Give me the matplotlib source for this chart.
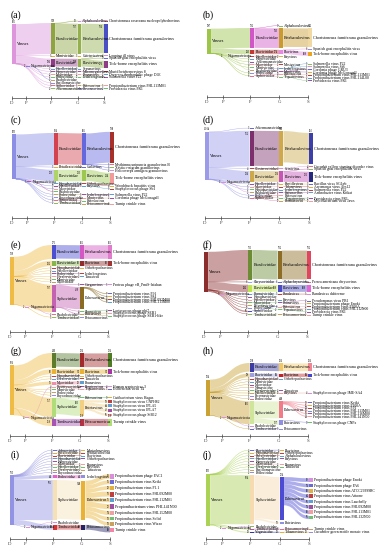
import matplotlib
matplotlib.use("Agg")
import matplotlib.pyplot as plt
from matplotlib.path import Path
from matplotlib.patches import PathPatch, Rectangle

plt.rcParams["font.family"] = ["Liberation Serif", "DejaVu Serif"]

rank_x = [0, 0.55, 1.5, 2.5, 3.5]
rank_labels = ["D", "P", "F", "G", "S"]

# lineages: (phylum, family, genus, species, reads)
a_lin = [
    ("", "Baculoviridae", "Alphabaculovirus", "Choristoneura rosaceana nucleopolyhedrovirus", 12),
    ("", "Baculoviridae", "Betabaculovirus", "Choristoneura fumiferana granulovirus", 706),
    ("", "Baculoviridae", "Betabaculovirus", "", 31),
    ("", "Mimiviridae", "Cafeteriavirus", "", 3),
    ("", "Flaviviridae", "Flavivirus", "Louping ill virus", 4),
    ("", "Flaviviridae", "Flavivirus", "Spanish goat encephalitis virus", 9),
    ("", "Flaviviridae", "Flavivirus", "Tick-borne encephalitis virus", 176),
    ("", "Flaviviridae", "", "", 7),
    ("", "Herelleviridae", "Sepunavirus", "", 2),
    ("", "Herpesviridae", "Muromegalovirus", "Murid betaherpesvirus 8", 3),
    ("", "Myoviridae", "Pbunavirus", "Deep-sea thermophilic phage D6E", 2),
    ("", "Podoviridae", "Lederbergvirus", "Salmonella virus P22", 2),
    ("Negarnaviricota", "Rhabdoviridae", "", "", 2),
    ("", "Papillomaviridae", "", "", 1),
    ("", "Siphoviridae", "Pahexavirus", "Propionibacterium virus PHL113M01", 3),
    ("", "Ackermannviridae", "Pirsoneavirus", "Providencia virus PR1", 2),
]
b_lin = [
    ("", "Baculoviridae", "Alphabaculovirus", "", 9),
    ("", "Baculoviridae", "Betabaculovirus", "Choristoneura fumiferana granulovirus", 742),
    ("", "Baculoviridae", "Betabaculovirus", "", 41),
    ("", "Flaviviridae", "Flavivirus", "Spanish goat encephalitis virus", 6),
    ("", "Flaviviridae", "Flavivirus", "Tick-borne encephalitis virus", 168),
    ("", "Flaviviridae", "", "", 9),
    ("", "Herelleviridae", "Kayvirus", "", 2),
    ("", "Herpesviridae", "", "", 2),
    ("", "Ackermannviridae", "", "", 1),
    ("", "Myoviridae", "Mosigvirus", "", 2),
    ("", "Mimiviridae", "", "", 1),
    ("Negarnaviricota", "Rhabdoviridae", "", "", 2),
    ("", "Podoviridae", "Lederbergvirus", "Salmonella virus P22", 3),
    ("", "Podoviridae", "Lederbergvirus", "Salmonella virus Sf6", 1),
    ("", "Siphoviridae", "Montyvirus", "Gordonia phage GRU3", 1),
    ("", "Siphoviridae", "Montyvirus", "Gordonia phage McGonagall", 1),
    ("", "Siphoviridae", "Pahexavirus", "Propionibacterium virus PHL113M01", 2),
    ("", "Siphoviridae", "Pahexavirus", "Propionibacterium virus PHL114L00", 2),
    ("", "Myoviridae", "Tequatrovirus", "Providencia virus PR1", 2),
]
c_lin = [
    ("", "Baculoviridae", "Betabaculovirus", "Choristoneura fumiferana granulovirus", 598),
    ("", "Baculoviridae", "Betabaculovirus", "Mythimna unipuncta granulovirus B", 3),
    ("", "Baculoviridae", "Betabaculovirus", "Xestia c-nigrum granulovirus", 3),
    ("", "Baculoviridae", "Betabaculovirus", "Helicoverpa armigera granulovirus", 2),
    ("", "Baculoviridae", "", "", 18),
    ("", "Betaflexiviridae", "Carlavirus", "", 3),
    ("", "Flaviviridae", "Flavivirus", "Tick-borne encephalitis virus", 214),
    ("", "Flaviviridae", "Flavivirus", "", 9),
    ("", "Hepadnaviridae", "Orthohepadnavirus", "Woodchuck hepatitis virus", 4),
    ("", "Herelleviridae", "Kayvirus", "Staphylococcus phage Sb1", 3),
    ("", "Myoviridae", "", "", 3),
    ("Negarnaviricota", "Rhabdoviridae", "", "", 3),
    ("", "Podoviridae", "Lederbergvirus", "Salmonella virus P22", 3),
    ("", "Phycodnaviridae", "", "", 1),
    ("", "Siphoviridae", "Montyvirus", "Gordonia phage McGonagall", 2),
    ("", "Siphoviridae", "Pahexavirus", "", 2),
    ("", "Tombusviridae", "Betacarmovirus", "Turnip crinkle virus", 2),
]
d_lin = [
    ("", "Ackermannviridae", "", "", 3),
    ("", "Baculoviridae", "Betabaculovirus", "Choristoneura fumiferana granulovirus", 662),
    ("", "Baculoviridae", "Betabaculovirus", "", 78),
    ("", "Baculoviridae", "", "", 12),
    ("", "Closteroviridae", "Crinivirus", "Cucurbit yellow stunting disorder virus", 4),
    ("", "Flaviviridae", "Flavivirus", "Spanish goat encephalitis virus", 5),
    ("", "Flaviviridae", "Flavivirus", "Tick-borne encephalitis virus", 221),
    ("", "Flaviviridae", "", "", 8),
    ("", "Herelleviridae", "Bastillevirus", "Bacillus virus SG1pb", 3),
    ("", "Myoviridae", "Tulanevirus", "Aeromonas virus Aes12", 3),
    ("", "Hepadnaviridae", "", "", 2),
    ("Negarnaviricota", "Rhabdoviridae", "", "", 2),
    ("", "Podoviridae", "Lederbergvirus", "Salmonella virus P22", 3),
    ("", "Siphoviridae", "Kafunavirus", "Arthrobacter virus Kitkat", 2),
    ("", "Siphoviridae", "Pahexavirus", "", 2),
    ("", "Myoviridae", "Tequatrovirus", "Providencia virus PR1", 2),
    ("", "Siphoviridae", "Fromanvirus", "Mycobacterium virus Jaws", 2),
]
e_lin = [
    ("", "Baculoviridae", "Betabaculovirus", "Choristoneura fumiferana granulovirus", 262),
    ("", "Baculoviridae", "", "", 9),
    ("", "Flaviviridae", "Flavivirus", "Tick-borne encephalitis virus", 96),
    ("", "Flaviviridae", "", "", 6),
    ("", "Hepadnaviridae", "Orthohepadnavirus", "", 3),
    ("", "Herelleviridae", "", "", 2),
    ("", "Podoviridae", "Lederbergvirus", "", 3),
    ("", "Drexlerviridae", "Tunavirus", "", 2),
    ("", "Mimiviridae", "", "", 2),
    ("", "Myoviridae", "", "", 2),
    ("", "Siphoviridae", "Gorganvirus", "Proteus phage vB_PmiS-Isfahan", 3),
    ("", "Siphoviridae", "Pahexavirus", "Propionibacterium virus P91", 7),
    ("", "Siphoviridae", "Pahexavirus", "Propionibacterium virus P84", 6),
    ("", "Siphoviridae", "Pahexavirus", "Propionibacterium virus PHL092M00", 8),
    ("", "Siphoviridae", "Pahexavirus", "Propionibacterium virus PHL113M00", 6),
    ("", "Siphoviridae", "Pahexavirus", "", 402),
    ("", "Siphoviridae", "Skunavirus", "Lactococcus phage phi7", 4),
    ("", "Siphoviridae", "Phietavirus", "Staphylococcus phage SEB1", 3),
    ("", "Siphoviridae", "Phietavirus", "Staphylococcus phage SEB1-like", 3),
    ("", "Siphoviridae", "", "", 95),
    ("Negarnaviricota", "Rhabdoviridae", "", "", 2),
    ("", "Tombusviridae", "Betacarmovirus", "", 3),
]
f_lin = [
    ("", "Baculoviridae", "Betabaculovirus", "Choristoneura fumiferana granulovirus", 702),
    ("", "Baculoviridae", "", "", 28),
    ("", "Chrysoviridae", "Alphachrysovirus", "Persea americana chrysovirus", 6),
    ("", "Flaviviridae", "Flavivirus", "Tick-borne encephalitis virus", 168),
    ("", "Flaviviridae", "", "", 14),
    ("Negarnaviricota", "Phenuiviridae", "Bandavirus", "Bandavirus dabieense", 5),
    ("", "Hepadnaviridae", "", "", 2),
    ("", "Herelleviridae", "Kayvirus", "", 2),
    ("", "Myoviridae", "Pbunavirus", "Pseudomonas virus PB1", 2),
    ("", "Picornaviridae", "", "", 1),
    ("", "Podoviridae", "", "", 2),
    ("", "Siphoviridae", "Pahexavirus", "Propionibacterium phage Enoki", 2),
    ("", "Siphoviridae", "Pahexavirus", "Propionibacterium virus P100A", 2),
    ("", "Siphoviridae", "Pahexavirus", "Propionibacterium virus PHL112N00", 2),
    ("", "Siphoviridae", "", "", 30),
    ("", "Myoviridae", "Tequatrovirus", "Providencia virus PR1", 2),
    ("", "Tombusviridae", "Betacarmovirus", "Turnip crinkle virus", 2),
]
g_lin = [
    ("", "Baculoviridae", "Betabaculovirus", "Choristoneura fumiferana granulovirus", 226),
    ("", "Baculoviridae", "", "", 14),
    ("", "Flaviviridae", "Flavivirus", "Tick-borne encephalitis virus", 74),
    ("", "Flaviviridae", "", "", 6),
    ("", "Hepadnaviridae", "Orthohepadnavirus", "", 3),
    ("", "Drexlerviridae", "Tunavirus", "", 3),
    ("", "Myoviridae", "Pbunavirus", "", 52),
    ("Negarnaviricota", "Paramyxoviridae", "Respirovirus", "Human respirovirus 3", 4),
    ("", "Myoviridae", "Tequatrovirus", "Escherichia virus T4", 3),
    ("", "Mimiviridae", "", "", 2),
    ("", "Podoviridae", "", "", 2),
    ("", "Phycodnaviridae", "", "", 2),
    ("", "Siphoviridae", "Pahexavirus", "Cutibacterium virus Hagus", 9),
    ("", "Siphoviridae", "Phietavirus", "Staphylococcus virus CNPH82", 38),
    ("", "Siphoviridae", "Phietavirus", "Staphylococcus virus IPLA5", 48),
    ("", "Siphoviridae", "Phietavirus", "Staphylococcus virus IPLA7", 42),
    ("", "Siphoviridae", "Phietavirus", "Staphylococcus phage StB12", 36),
    ("", "Siphoviridae", "Phietavirus", "", 96),
    ("", "Siphoviridae", "", "", 48),
    ("", "Tombusviridae", "Betacarmovirus", "Turnip crinkle virus", 118),
]
h_lin = [
    ("", "Baculoviridae", "Betabaculovirus", "Choristoneura fumiferana granulovirus", 206),
    ("", "Baculoviridae", "", "", 22),
    ("", "Flaviviridae", "Flavivirus", "Tick-borne encephalitis virus", 88),
    ("", "Flaviviridae", "", "", 11),
    ("", "Hepadnaviridae", "Orthohepadnavirus", "", 3),
    ("", "Mimiviridae", "", "", 2),
    ("", "Myoviridae", "", "", 2),
    ("", "Nimaviridae", "", "", 1),
    ("", "Drexlerviridae", "Tunavirus", "", 2),
    ("", "Herelleviridae", "Kayvirus", "Staphylococcus phage IME-SA4", 4),
    ("", "Picornaviridae", "", "", 1),
    ("", "Podoviridae", "", "", 2),
    ("", "Siphoviridae", "Pahexavirus", "Propionibacterium virus Keiki", 12),
    ("", "Siphoviridae", "Pahexavirus", "Propionibacterium virus P100A", 11),
    ("", "Siphoviridae", "Pahexavirus", "Propionibacterium virus P91", 14),
    ("", "Siphoviridae", "Pahexavirus", "Propionibacterium virus PHL113M01", 13),
    ("", "Siphoviridae", "Pahexavirus", "Propionibacterium virus PHL116M00", 12),
    ("", "Siphoviridae", "Pahexavirus", "Propionibacterium virus PHL141N00", 14),
    ("", "Siphoviridae", "Pahexavirus", "", 372),
    ("", "Siphoviridae", "Phietavirus", "Staphylococcus phage CNPx", 9),
    ("", "Siphoviridae", "Phietavirus", "", 118),
    ("", "Siphoviridae", "", "", 30),
    ("Negarnaviricota", "Rhabdoviridae", "", "", 2),
    ("", "Tombusviridae", "Betacarmovirus", "", 3),
]
i_lin = [
    ("", "Adenoviridae", "Mastadenovirus", "", 3),
    ("", "Baculoviridae", "Betabaculovirus", "", 4),
    ("", "Flaviviridae", "Flavivirus", "", 3),
    ("", "Hepadnaviridae", "Orthohepadnavirus", "", 3),
    ("", "Herpesviridae", "", "", 2),
    ("", "Myoviridae", "Pbunavirus", "", 3),
    ("", "Herelleviridae", "Kayvirus", "", 3),
    ("", "Drexlerviridae", "Tunavirus", "", 2),
    ("", "Phycodnaviridae", "", "", 2),
    ("", "Podoviridae", "Lederbergvirus", "", 44),
    ("", "Siphoviridae", "Pahexavirus", "Propionibacterium phage PAC1", 62),
    ("", "Siphoviridae", "Pahexavirus", "Propionibacterium virus Keiki", 55),
    ("", "Siphoviridae", "Pahexavirus", "Propionibacterium virus P1.1", 52),
    ("", "Siphoviridae", "Pahexavirus", "Propionibacterium virus PHL092M00", 70),
    ("", "Siphoviridae", "Pahexavirus", "Propionibacterium virus PHL112M01", 55),
    ("", "Siphoviridae", "Pahexavirus", "Propionibacterium virus PHL141N00", 72),
    ("", "Siphoviridae", "Pahexavirus", "Propionibacterium virus PHL152M00", 58),
    ("", "Siphoviridae", "Pahexavirus", "Propionibacterium virus Solid", 50),
    ("", "Siphoviridae", "Pahexavirus", "Propionibacterium virus Wizzo", 50),
    ("", "Siphoviridae", "Pahexavirus", "", 24),
    ("", "Siphoviridae", "", "", 18),
    ("Negarnaviricota", "Rhabdoviridae", "", "", 2),
    ("", "Tombusviridae", "Betacarmovirus", "Turnip crinkle virus", 68),
]
j_lin = [
    ("", "Flaviviridae", "Flavivirus", "", 3),
    ("", "Hepadnaviridae", "Orthohepadnavirus", "", 3),
    ("", "Baculoviridae", "Alphabaculovirus", "", 2),
    ("", "Herelleviridae", "Kayvirus", "", 2),
    ("", "Herpesviridae", "", "", 2),
    ("", "Myoviridae", "Pbunavirus", "", 2),
    ("", "Drexlerviridae", "Tunavirus", "", 2),
    ("", "Papillomaviridae", "", "", 1),
    ("", "Podoviridae", "", "", 2),
    ("", "Siphoviridae", "Pahexavirus", "Propionibacterium phage Enoki", 62),
    ("", "Siphoviridae", "Pahexavirus", "Propionibacterium phage PA6", 58),
    ("", "Siphoviridae", "Pahexavirus", "Propionibacterium virus ATCC29399BC", 60),
    ("", "Siphoviridae", "Pahexavirus", "Propionibacterium virus Attacne", 64),
    ("", "Siphoviridae", "Pahexavirus", "Propionibacterium virus Lauchelly", 56),
    ("", "Siphoviridae", "Pahexavirus", "Propionibacterium virus PHL092M00", 58),
    ("", "Siphoviridae", "Pahexavirus", "Propionibacterium virus PHL113M01", 60),
    ("", "Siphoviridae", "Pahexavirus", "Propionibacterium virus PHL132N00", 56),
    ("", "Siphoviridae", "Pahexavirus", "", 250),
    ("", "Siphoviridae", "Phietavirus", "", 30),
    ("", "Siphoviridae", "", "", 70),
    ("Negarnaviricota", "Rhabdoviridae", "", "", 2),
    ("", "Tombusviridae", "Betacarmovirus", "Turnip crinkle virus", 8),
    ("", "Virgaviridae", "Tobamovirus", "Cucumber green mottle mosaic virus", 20),
]

CF = "Choristoneura fumiferana granulovirus"
TB = "Tick-borne encephalitis virus"
a_col = {"Viruses": "#dd96dc", "Baculoviridae": "#8da53e", "Betabaculovirus": "#93b04c",
         CF: "#4a50c4", "Flaviviridae": "#8e3d84", "Flavivirus": "#93b04c", TB: "#8e3d84",
         "Negarnaviricota": "#8080e0"}
b_col = {"Viruses": "#9cc54a", "Baculoviridae": "#d257c6", "Betabaculovirus": "#c99a2e",
         CF: "#f1d9a3", "Flaviviridae": "#c23a35", "Flavivirus": "#e58adf", TB: "#eaa420",
         "Negarnaviricota": "#c8d890"}
c_col = {"Viruses": "#8c8ee6", "Baculoviridae": "#d2424f", "Betabaculovirus": "#6567dc",
         CF: "#a8302b", "Flaviviridae": "#aed468", "Flavivirus": "#9cc84f", TB: "#f39a9a",
         "Negarnaviricota": "#c050a0"}
d_col = {"Viruses": "#9b9be9", "Baculoviridae": "#7c2f6c", "Betabaculovirus": "#cda94a",
         CF: "#3d3fab", "Flaviviridae": "#cda94a", "Flavivirus": "#c556b6", TB: "#262a7c"}
e_col = {"Viruses": "#f0bb45", "Baculoviridae": "#4c4fd2", "Betabaculovirus": "#d457c4",
         CF: "#e17ccc", "Flaviviridae": "#86b64a", "Flavivirus": "#922b2b", TB: "#a33434",
         "Siphoviridae": "#c563b3", "Pahexavirus": "#8b6b22"}
f_col = {"Viruses": "#8c2d2d", "Baculoviridae": "#6b8c34", "Betabaculovirus": "#8d6c25",
         CF: "#e2465f", "Flaviviridae": "#bde34f", "Flavivirus": "#4b4bc4", TB: "#e467d3",
         "Siphoviridae": "#4b4bd4", "Chrysoviridae": "#a0a0f0"}
g_col = {"Viruses": "#f0bb45", "Baculoviridae": "#5c7c2c", "Betabaculovirus": "#a22a2a",
         CF: "#4d7c22", "Flaviviridae": "#eab234", "Flavivirus": "#eab234", TB: "#a733a7",
         "Myoviridae": "#ef8fa8", "Siphoviridae": "#b0dc7a", "Phietavirus": "#f2cf82",
         "Tombusviridae": "#a455b4", "Betacarmovirus": "#b23344", "Turnip crinkle virus": "#b0dc7a"}
h_col = {"Viruses": "#c9a233", "Baculoviridae": "#3c3ca4", "Betabaculovirus": "#f2c867",
         CF: "#f28592", "Flaviviridae": "#a0a0e4", "Flavivirus": "#c42424", TB: "#4444d4",
         "Siphoviridae": "#cfe59a", "Pahexavirus": "#f27b8a", "Phietavirus": "#8f8fe8"}
i_col = {"Viruses": "#9393e3", "Podoviridae": "#e563c8", "Siphoviridae": "#f6e0b8",
         "Pahexavirus": "#eab234", "Tombusviridae": "#d43434", "Betacarmovirus": "#232366",
         "Turnip crinkle virus": "#f386a5"}
j_col = {"Viruses": "#aad254", "Siphoviridae": "#f6dbb0", "Pahexavirus": "#4b4bd4",
         "Tombusviridae": "#c050a0", "Virgaviridae": "#3333a4", "Tobamovirus": "#e0b040"}

palette = ["#8fbc5a", "#d98fd9", "#6a6ad0", "#e0b040", "#c04040", "#60a0d0",
           "#a050a0", "#f0a0a0", "#70c070", "#c8a060", "#9090e0", "#e07090"]

PAD = 1.8
HMIN = 1.0
NW = 0.14


def fmt(v):
    return f"{v / 1000:.2f}k" if v >= 1000 else str(v)


def build(lineage):
    nodes, order, links = {}, {c: [] for c in range(5)}, {}
    for phy, fam, gen, sp, n in lineage:
        path = [(0, "Viruses")]
        if phy:
            path.append((1, phy))
        path.append((2, fam))
        if gen:
            path.append((3, gen))
            if sp:
                path.append((4, sp))
        for k in path:
            if k not in nodes:
                nodes[k] = 0
                order[k[0]].append(k)
            nodes[k] += n
        for a, b in zip(path[:-1], path[1:]):
            links[(a, b)] = links.get((a, b), 0) + n
    return nodes, order, links


def pav(t, w):
    blocks = []
    for ti, wi in zip(t, w):
        blocks.append([ti, wi, 1])
        while len(blocks) > 1 and blocks[-2][0] > blocks[-1][0]:
            v2, w2, c2 = blocks.pop()
            v1, w1, c1 = blocks.pop()
            blocks.append([(v1 * w1 + v2 * w2) / (w1 + w2), w1 + w2, c1 + c2])
    out = []
    for v, _, c in blocks:
        out += [v] * c
    return out


def place(keys, desired, hgt, nodes, lo, H):
    off, acc = [], 0
    for k in keys:
        off.append(acc)
        acc += hgt[k] + PAD
    z = pav([desired[k] - o for k, o in zip(keys, off)], [nodes[k] + 5 for k in keys])
    hi = max(H - 1 - (off[-1] + hgt[keys[-1]]), lo)
    return {k: min(max(zi, lo), hi) + o for k, zi, o in zip(keys, z, off)}


def sankey(ax, lineage, colours, tops, vir_h, H):
    nodes, order, links = build(lineage)
    v0 = (0, "Viruses")
    ky = vir_h / nodes[v0]
    hgt = {k: max(v * ky, HMIN) for k, v in nodes.items()}
    y = place(order[2], {k: tops[0] for k in order[2]}, hgt, nodes, tops[0], H)
    for c in (3, 4):
        want = {}
        for k in order[c]:
            src = [(a, v) for (a, b), v in links.items() if b == k]
            ctr = sum((y[a] + hgt[a] / 2) * v for a, v in src) / sum(v for _, v in src)
            want[k] = ctr - hgt[k] / 2
        y.update(place(order[c], want, hgt, nodes, tops[c - 2], H))
    tg = [(b, v) for (a, b), v in links.items() if a == v0 and b[0] == 2]
    ctr = sum((y[b] + hgt[b] / 2) * v for b, v in tg) / sum(v for _, v in tg)
    y[v0] = ctr - hgt[v0] / 2
    for k in order[1]:
        y[k] = y[v0] + hgt[v0] + PAD

    col = {}
    i = 0
    for c in range(5):
        for k in order[c]:
            col[k] = colours.get(k[1], palette[i % len(palette)])
            i += 1

    sy, ty = {}, {}
    for k in nodes:
        acc = y[k]
        for l in sorted([l for l in links if l[0] == k], key=lambda l: y[l[1]]):
            sy[l] = acc
            acc += links[l] * ky
        acc = y[k]
        for l in sorted([l for l in links if l[1] == k], key=lambda l: y[l[0]]):
            ty[l] = acc
            acc += links[l] * ky

    for l, v in links.items():
        a, b = l
        x0 = rank_x[a[0]] + NW
        x1 = rank_x[b[0]]
        xm = (x0 + x1) / 2
        h = v * ky
        y0, y1 = sy[l], ty[l]
        verts = [(x0, y0), (xm, y0), (xm, y1), (x1, y1), (x1, y1 + h),
                 (xm, y1 + h), (xm, y0 + h), (x0, y0 + h), (x0, y0)]
        codes = [Path.MOVETO, Path.CURVE4, Path.CURVE4, Path.CURVE4, Path.LINETO,
                 Path.CURVE4, Path.CURVE4, Path.CURVE4, Path.CLOSEPOLY]
        ax.add_patch(PathPatch(Path(verts, codes), facecolor=col[a], alpha=0.45,
                               edgecolor=col[a], lw=0.25 if h < 1 else 0, clip_on=False))

    for c in range(5):
        prev_bottom = -99
        for k in sorted(order[c], key=lambda k: y[k]):
            v = nodes[k]
            x = rank_x[c]
            ax.add_patch(Rectangle((x, y[k]), NW, hgt[k], facecolor=col[k],
                                   edgecolor="none", clip_on=False))
            cy = y[k] + hgt[k] / 2
            if hgt[k] >= 5:
                ax.text(x + NW + 0.04, cy, k[1], fontsize=3.0, va="center", ha="left")
                if y[k] - prev_bottom > 3:
                    ax.text(x + NW / 2, y[k] - 0.4, fmt(v), fontsize=1.9,
                            va="bottom", ha="center")
                else:
                    ax.text(x - 0.03, y[k] + 1, fmt(v), fontsize=1.9, va="top", ha="right")
            else:
                ax.text(x + NW + 0.04, cy, k[1], fontsize=2.7, va="center", ha="left")
                ax.text(x - 0.03, cy, fmt(v), fontsize=1.9, va="center", ha="right")
            prev_bottom = y[k] + hgt[k]


# tag, lineage, colours, grid col, grid row, tick span px, top px, axis px, label px, column tops, Viruses height
panels = [
    ("(a)", a_lin, a_col, 0, 0, (12, 104), 3, 98, 15, (20, 12, 4), 40),
    ("(b)", b_lin, b_col, 1, 0, (15, 116), 3, 97, 15, (25, 17, 7), 25),
    ("(c)", c_lin, c_col, 0, 1, (12, 110), 108, 218, 120, (25, 17, 7), 45),
    ("(d)", d_lin, d_col, 1, 1, (13, 117), 108, 218, 120, (20, 10, 7), 48),
    ("(e)", e_lin, e_col, 0, 2, (10, 108), 233, 332, 245, (12, 7, 4), 48),
    ("(f)", f_lin, f_col, 1, 2, (12, 115), 233, 332, 245, (17, 7, 2), 40),
    ("(g)", g_lin, g_col, 0, 3, (10, 108), 339, 436, 351, (14, 11, 6), 50),
    ("(h)", h_lin, h_col, 1, 3, (14, 116), 339, 436, 351, (24, 13, 6), 36),
    ("(i)", i_lin, i_col, 0, 4, (10, 110), 443, 539, 455, (7, 7, 22), 50),
    ("(j)", j_lin, j_col, 1, 4, (14, 117), 443, 539, 455, (7, 5, 30), 52),
]

W, Hf = 384, 550
fig = plt.figure(figsize=(W / 100, Hf / 100), dpi=100)

for tag, lin, cols, gc, gr, (xa, xb), top, bot, lab, tops, vh in panels:
    H = bot - top
    left = gc * 192 + xa
    ax = fig.add_axes([left / W, 1 - bot / Hf, (xb - xa) / W, H / Hf])
    ax.set_xlim(0, 3.5)
    ax.set_ylim(H, 0)
    sankey(ax, lin, cols, tops, vh, H)
    for s in ("top", "left", "right"):
        ax.spines[s].set_visible(False)
    ax.spines["bottom"].set_linewidth(0.5)
    ax.spines["bottom"].set_color("#444444")
    ax.set_yticks([])
    ax.set_xticks(rank_x)
    ax.set_xticklabels(rank_labels)
    ax.tick_params(axis="x", length=2.5, width=0.5, direction="inout", labelsize=3.5,
                   pad=1, colors="#444444")
    ax.patch.set_alpha(0)
    fig.text((gc * 192 + 11) / W, 1 - lab / Hf, tag, fontsize=7, va="center", ha="left")

fig.savefig("out.png", dpi=100)
